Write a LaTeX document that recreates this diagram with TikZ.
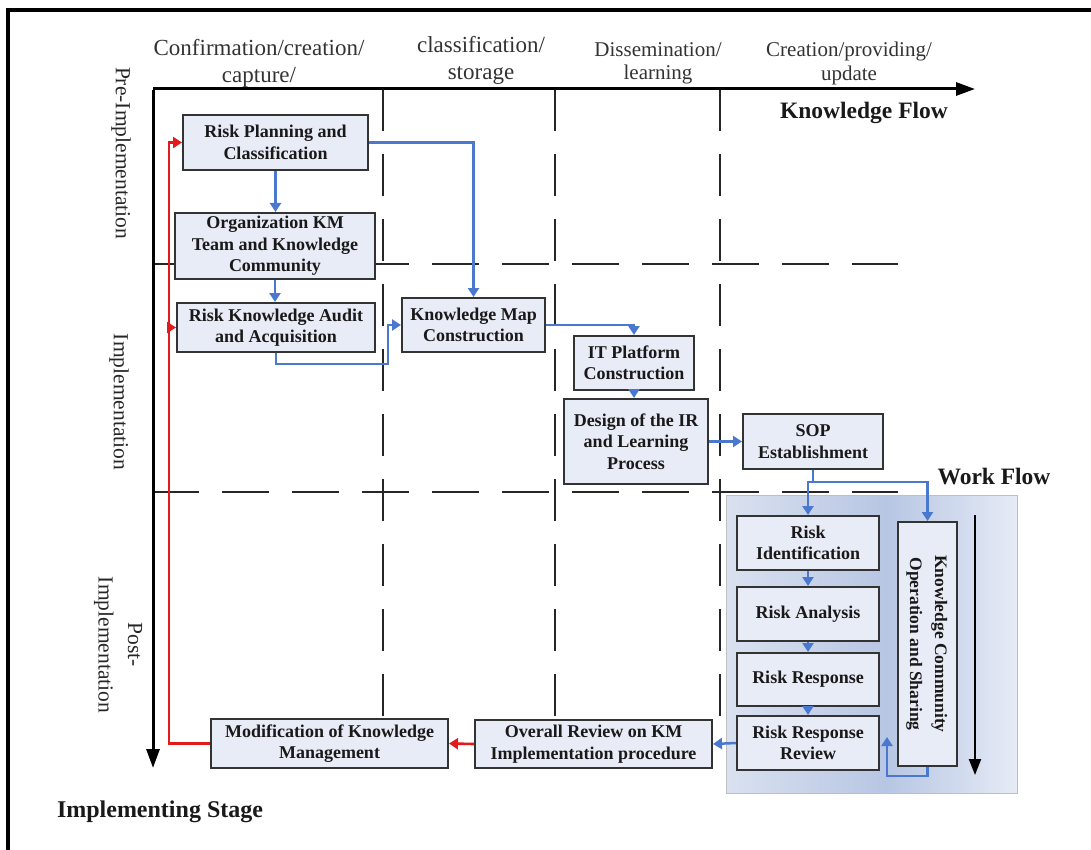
\documentclass[tikz,border=0pt]{standalone}
\usepackage{fontspec}
\usepackage{graphicx}
\setmainfont{Liberation Serif}
\usetikzlibrary{arrows.meta}

\definecolor{boxfill}{HTML}{E8ECF6}
\definecolor{flowblue}{HTML}{4A78CF}
\definecolor{backred}{HTML}{E3191C}
\definecolor{wfleft}{HTML}{DAE1F0}
\definecolor{wfdark}{HTML}{B7C6E3}
\definecolor{wfright}{HTML}{E6EBF6}

\begin{document}
\begin{tikzpicture}[x=1pt,y=-1pt,
  stagebox/.style={draw=black!80, line width=2pt, fill=boxfill, inner sep=0pt,
    align=center, text=black!90, font=\bfseries\fontsize{18}{21.5}\selectfont},
  bluearrow/.style={draw=flowblue, line width=2.5pt, -{Triangle[width=11pt,length=9pt]}},
  redarrow/.style={draw=backred, line width=2.6pt, -{Triangle[width=11pt,length=9pt]}},
  gridv/.style={draw=black!85, line width=2.6pt, dash pattern=on 42pt off 23pt},
  gridh/.style={draw=black!85, line width=2.6pt, dash pattern=on 47pt off 23pt},
  axisarrow/.style={draw=black, line width=3pt, -{Triangle[width=13pt,length=19pt]}},
  header/.style={align=center, text=black!80, font=\fontsize{23}{27}\selectfont},
  headersm/.style={align=center, text=black!80, font=\fontsize{21}{23.5}\selectfont},
  stagelabel/.style={align=center, rotate=-90, text=black!85, font=\fontsize{21.5}{29.5}\selectfont},
  title/.style={text=black!90, font=\bfseries\fontsize{23.5}{28}\selectfont}
]
\useasboundingbox (0,0) rectangle (1091,850);

% outer frame (top and left edges)
\draw[line width=3.5pt] (8,850) -- (8,10) -- (1091,10);

% column headers
\node[header] (h1) at (259,63) {Confirmation/creation/\\capture/};
\node[header] (h2) at (481,60) {classification/\\storage};
\node[headersm] (h3) at (658,63.5) {Dissemination/\\learning};
\node[headersm] (h4) at (849,63.5) {Creation/providing/\\update};

% row labels
\node[stagelabel] (r1) at (121,153) {Pre-Implementation};
\node[stagelabel] (r2) at (119,402) {Implementation};
\node[stagelabel] (r3) at (118,645) {Post-\\Implementation};

% titles
\node[title] (kflow) at (864,113) {Knowledge Flow};
\node[title] (wflow) at (994,477) {Work Flow};
\node[title, font=\bfseries\fontsize{24}{28}\selectfont] (istage) at (160,812) {Implementing Stage};

% dashed grid
\draw[gridv] (383,89) -- (383,716);
\draw[gridv] (555,89) -- (555,716);
\draw[gridv] (720,89) -- (720,716);
\draw[gridh] (152,264) -- (898,264);
\draw[gridh] (152,492) -- (898,492);

% work flow panel
\shade[left color=wfleft, right color=wfdark] (726,495) rectangle (886,793);
\shade[left color=wfdark, right color=wfright] (886,495) rectangle (1017,793);
\draw[draw=black!25, line width=1pt] (726,495) rectangle (1017,793);

% axes
\coordinate (origin) at (153,89);
\coordinate (kend) at (975,89);
\coordinate (send) at (153,768);
\draw[axisarrow] (origin) -- (kend);
\draw[axisarrow] ([yshift=-1.5pt]origin) -- (send);
\coordinate (wtop) at (975,515);
\coordinate (wend) at (975,775);
\draw[draw=black, line width=2.2pt, -{Triangle[width=12pt,length=16pt]}] (wtop) -- (wend);

% stages
\node[stagebox, minimum width=185pt, minimum height=55pt] (rpc) at (275.5,142.5) {Risk Planning and\\Classification};
\node[stagebox, minimum width=200pt, minimum height=66pt] (org) at (275,246) {Organization KM\\Team and Knowledge\\Community};
\node[stagebox, minimum width=198pt, minimum height=49pt] (audit) at (276,327.5) {Risk Knowledge Audit\\and Acquisition};
\node[stagebox, minimum width=143pt, minimum height=54pt] (kmap) at (473.5,325) {Knowledge Map\\Construction};
\node[stagebox, minimum width=120pt, minimum height=54pt] (itp) at (634,363) {IT Platform\\Construction};
\node[stagebox, minimum width=144pt, minimum height=85pt] (design) at (636,441.5) {Design of the IR\\and Learning\\Process};
\node[stagebox, minimum width=140pt, minimum height=55pt] (sop) at (813,441.5) {SOP\\Establishment};
\node[stagebox, minimum width=142pt, minimum height=54pt] (rid) at (808,543) {Risk\\Identification};
\node[stagebox, minimum width=142pt, minimum height=54pt] (ran) at (808,614) {Risk Analysis};
\node[stagebox, minimum width=142pt, minimum height=53pt] (rre) at (808,679.5) {Risk Response};
\node[stagebox, minimum width=142pt, minimum height=54pt] (rrr) at (808,743) {Risk Response\\Review};
\node[stagebox, minimum width=59pt, minimum height=244pt, font=\bfseries\fontsize{17.5}{25}\selectfont] (kcos) at (927.5,644)
  {\rotatebox{-90}{\begin{tabular}{@{}c@{}}Knowledge Community\\Operation and Sharing\end{tabular}}};
\node[stagebox, minimum width=237pt, minimum height=48pt] (overall) at (593.5,744) {Overall Review on KM\\Implementation procedure};
\node[stagebox, minimum width=237pt, minimum height=49pt] (mod) at (329.5,743.5) {Modification of Knowledge\\Management};

% knowledge flow connectors
\draw[bluearrow] (rpc.east) -| (kmap.north);
\draw[bluearrow] (rpc.south) -- (rpc.south |- org.north);
\draw[bluearrow] (org.south) -- (org.south |- audit.north);
\draw[bluearrow] (audit.south) |- (388,364) -- (388,325) -- (kmap.west);
\draw[bluearrow] (kmap.east) -| (itp.north);
\draw[bluearrow] (itp.south) -- (itp.south |- design.north);
\draw[bluearrow] (design.east) -- (sop.west);
\draw[draw=flowblue, line width=2.5pt] (sop.south) -- ++(0,12) coordinate (split);
\draw[bluearrow] (split) -| (rid.north);
\draw[bluearrow] (split) -| (kcos.north);
\draw[bluearrow] (rid.south) -- (ran.north);
\draw[bluearrow] (ran.south) -- (rre.north);
\draw[bluearrow] (rre.south) -- (rrr.north);
\draw[bluearrow] (rrr.west) -- (overall.east);
\coordinate (kret) at (887,737);
\draw[bluearrow] (kcos.south) -- ++(0,9) -| (kret);

% feedback loop
\draw[redarrow] (overall.west) -- (mod.east);
\draw[redarrow] (mod.west) -| ([xshift=-13pt]rpc.west) -- (rpc.west);
\draw[redarrow] ([xshift=-7pt]audit.west) -- (audit.west);

\end{tikzpicture}
\end{document}
